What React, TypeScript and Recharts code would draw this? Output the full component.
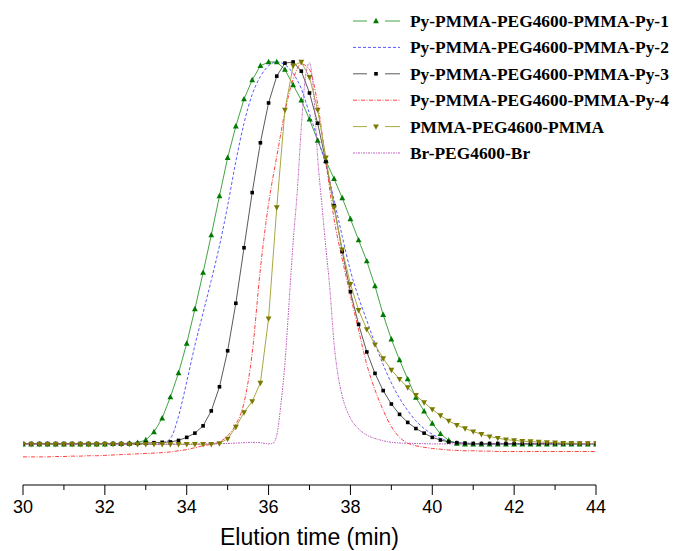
import React from 'react';
import { LineChart, Line, XAxis, YAxis, Legend } from 'recharts';

// elution time grid (min), 0.2 min steps
const time = [
  30.0, 30.2, 30.4, 30.6, 30.8, 31.0, 31.2, 31.4, 31.6, 31.8,
  32.0, 32.2, 32.4, 32.6, 32.8, 33.0, 33.2, 33.4, 33.6, 33.8,
  34.0, 34.2, 34.4, 34.6, 34.8, 35.0, 35.2, 35.4, 35.6, 35.8,
  36.0, 36.2, 36.4, 36.6, 36.8, 37.0, 37.2, 37.4, 37.6, 37.8,
  38.0, 38.2, 38.4, 38.6, 38.8, 39.0, 39.2, 39.4, 39.6, 39.8,
  40.0, 40.2, 40.4, 40.6, 40.8, 41.0, 41.2, 41.4, 41.6, 41.8,
  42.0, 42.2, 42.4, 42.6, 42.8, 43.0, 43.2, 43.4, 43.6, 43.8,
  44.0,
];

const py1 = [
  0.002, 0.002, 0.002, 0.002, 0.002, 0.002, 0.002, 0.002, 0.002, 0.002,
  0.002, 0.003, 0.003, 0.004, 0.006, 0.013, 0.034, 0.07, 0.125, 0.188,
  0.265, 0.355, 0.45, 0.548, 0.65, 0.75, 0.832, 0.903, 0.953, 0.99,
  1.0, 1.0, 0.98, 0.94, 0.9, 0.85, 0.795, 0.742, 0.695, 0.645,
  0.59, 0.535, 0.48, 0.415, 0.34, 0.276, 0.222, 0.172, 0.124, 0.088,
  0.056, 0.029, 0.012, 0.004, 0.002, 0.002, 0.002, 0.002, 0.002, 0.002,
  0.002, 0.002, 0.002, 0.002, 0.002, 0.002, 0.002, 0.002, 0.002, 0.002,
  0.002,
];

const py2 = [
  0.002, 0.002, 0.002, 0.002, 0.002, 0.002, 0.002, 0.002, 0.002, 0.002,
  0.002, 0.002, 0.002, 0.002, 0.002, 0.002, 0.002, 0.005, 0.017, 0.075,
  0.165, 0.26, 0.345, 0.43, 0.52, 0.625, 0.74, 0.84, 0.915, 0.962,
  0.99, 1.0, 0.993, 0.97, 0.93, 0.865, 0.8, 0.73, 0.64, 0.545,
  0.455, 0.385, 0.325, 0.265, 0.21, 0.162, 0.122, 0.09, 0.063, 0.043,
  0.028, 0.017, 0.01, 0.006, 0.004, 0.003, 0.003, 0.003, 0.003, 0.003,
  0.003, 0.003, 0.003, 0.003, 0.003, 0.003, 0.003, 0.003, 0.003, 0.003,
  0.003,
];

const py3 = [
  0.004, 0.004, 0.004, 0.004, 0.004, 0.004, 0.004, 0.004, 0.004, 0.004,
  0.004, 0.004, 0.004, 0.004, 0.004, 0.005, 0.006, 0.007, 0.008, 0.012,
  0.02, 0.031, 0.05, 0.089, 0.152, 0.246, 0.37, 0.515, 0.659, 0.789,
  0.893, 0.963, 0.997, 1.0, 0.976, 0.919, 0.84, 0.74, 0.625, 0.505,
  0.4, 0.315, 0.243, 0.187, 0.142, 0.107, 0.08, 0.059, 0.043, 0.031,
  0.02, 0.013, 0.008, 0.006, 0.005, 0.004, 0.004, 0.004, 0.004, 0.004,
  0.004, 0.004, 0.004, 0.004, 0.004, 0.004, 0.004, 0.004, 0.004, 0.004,
  0.004,
];

const py4 = [
  -0.031, -0.031, -0.031, -0.031, -0.03, -0.03, -0.029, -0.029, -0.028, -0.028,
  -0.027, -0.026, -0.025, -0.024, -0.023, -0.022, -0.021, -0.02, -0.018, -0.015,
  -0.012, -0.007, -0.002, 0.002, 0.008, 0.024, 0.054, 0.11, 0.24, 0.46,
  0.63, 0.753, 0.87, 0.955, 0.995, 0.98, 0.89, 0.74, 0.59, 0.485,
  0.39, 0.3, 0.21, 0.144, 0.091, 0.048, 0.02, 0.005, -0.002, -0.006,
  -0.009, -0.011, -0.013, -0.014, -0.015, -0.015, -0.016, -0.016, -0.017, -0.017,
  -0.017, -0.017, -0.017, -0.017, -0.017, -0.017, -0.017, -0.017, -0.017, -0.017,
  -0.017,
];

const pmma = [
  0.002, 0.002, 0.002, 0.002, 0.002, 0.002, 0.002, 0.002, 0.002, 0.002,
  0.002, 0.002, 0.002, 0.002, 0.002, 0.002, 0.002, 0.002, 0.002, 0.002,
  0.002, 0.002, 0.002, 0.002, 0.004, 0.016, 0.047, 0.085, 0.114, 0.162,
  0.33, 0.62, 0.875, 0.99, 1.0, 0.96, 0.875, 0.75, 0.62, 0.51,
  0.42, 0.352, 0.302, 0.262, 0.226, 0.196, 0.172, 0.15, 0.13, 0.111,
  0.093, 0.077, 0.063, 0.052, 0.043, 0.035, 0.028, 0.022, 0.018, 0.014,
  0.012, 0.01, 0.009, 0.008, 0.007, 0.006, 0.005, 0.005, 0.004, 0.004,
  0.004,
];

// Br-PEG4600-Br is much sharper, sampled on its own times
const pegTime = [
  30, 31, 32, 33, 34, 34.6, 35.0, 35.4, 35.6, 35.8,
  36.0, 36.1, 36.2, 36.3, 36.4, 36.5, 36.6, 36.7, 36.8, 36.9,
  37.0, 37.1, 37.2, 37.3, 37.4, 37.5, 37.6, 37.7, 37.8, 38.0,
  38.2, 38.4, 38.7, 39.1, 39.6, 40, 41, 42, 43, 44,
];
const peg = [
  0.002, 0.002, 0.002, 0.002, 0.002, 0.003, 0.004, 0.006, 0.007, 0.006,
  0.003, 0.004, 0.025, 0.105, 0.213, 0.37, 0.53, 0.66, 0.83, 0.96,
  0.998, 0.92, 0.75, 0.63, 0.515, 0.405, 0.265, 0.18, 0.128, 0.07,
  0.042, 0.026, 0.014, 0.006, 0.004, 0.003, 0.003, 0.003, 0.003, 0.003,
];

const names = [
  'Py-PMMA-PEG4600-PMMA-Py-1',
  'Py-PMMA-PEG4600-PMMA-Py-2',
  'Py-PMMA-PEG4600-PMMA-Py-3',
  'Py-PMMA-PEG4600-PMMA-Py-4',
  'PMMA-PEG4600-PMMA',
  'Br-PEG4600-Br',
];

const xTicks = [30, 31, 32, 33, 34, 35, 36, 37, 38, 39, 40, 41, 42, 43, 44];

const toRows = (ts: number[], vs: number[]) => ts.map((t, i) => ({ t, v: vs[i] }));

const series = [
  { name: names[0], data: toRows(time, py1), stroke: '#45a545', dash: undefined, marker: 'up', fill: '#007a00', type: 'linear' },
  { name: names[1], data: toRows(time, py2), stroke: '#5a5aff', dash: '3 2', marker: null, fill: '', type: 'monotone' },
  { name: names[2], data: toRows(time, py3), stroke: '#5a5a5a', dash: undefined, marker: 'square', fill: '#000000', type: 'linear' },
  { name: names[3], data: toRows(time, py4), stroke: '#ff4040', dash: '4 1.5 1 1.5', marker: null, fill: '', type: 'monotone' },
  { name: names[4], data: toRows(time, pmma), stroke: '#a8a840', dash: undefined, marker: 'down', fill: '#7a7a00', type: 'linear' },
  { name: names[5], data: toRows(pegTime, peg), stroke: '#c060c0', dash: '2 1 1 1', marker: null, fill: '', type: 'monotone' },
];

const Marker = ({ shape, cx, cy, fill }: any) => {
  if (shape === 'square') {
    return <rect x={cx - 1.8} y={cy - 1.8} width={3.6} height={3.6} fill={fill} />;
  }
  if (shape === 'down') {
    return <polygon points={`${cx},${cy + 3.2} ${cx - 2.9},${cy - 2.2} ${cx + 2.9},${cy - 2.2}`} fill={fill} />;
  }
  return <polygon points={`${cx},${cy - 3.2} ${cx - 2.9},${cy + 2.2} ${cx + 2.9},${cy + 2.2}`} fill={fill} />;
};

const makeDot = (shape: string, fill: string) => (props: any) => {
  const { cx, cy, index } = props;
  if (cx == null || cy == null) return <g key={index} />;
  return <Marker key={index} shape={shape} cx={cx} cy={cy} fill={fill} />;
};

const AxisTick = (props: any) => {
  const { x, y, payload } = props;
  const major = payload.value % 2 === 0;
  return (
    <g>
      <line x1={x} x2={x} y1={y} y2={y + (major ? 10 : 5)} stroke="#000" strokeWidth={1} />
      {major && (
        <text x={x} y={y + 28} textAnchor="middle" fontSize={18} fontFamily="Liberation Sans, Arial, sans-serif" fill="#000">
          {payload.value}
        </text>
      )}
    </g>
  );
};

const renderLegend = () => (
  <svg width={334} height={170} style={{ display: 'block' }}>
    {series.map((s, i) => {
      const y = 21 + i * 26.4;
      return (
        <g key={s.name}>
          {s.marker ? (
            <>
              <line x1={13} x2={27} y1={y} y2={y} stroke={s.stroke} strokeWidth={1} />
              <line x1={45} x2={60} y1={y} y2={y} stroke={s.stroke} strokeWidth={1} />
              <Marker shape={s.marker} cx={36} cy={y} fill={s.fill} />
            </>
          ) : (
            <line x1={13} x2={60} y1={y} y2={y} stroke={s.stroke} strokeWidth={1} strokeDasharray={s.dash} />
          )}
          <text x={70} y={y + 6} fontSize={17.4} fontWeight="bold" fontFamily="Liberation Serif, Times New Roman, serif" fill="#000">
            {s.name}
          </text>
        </g>
      );
    })}
  </svg>
);

export default function App() {
  return (
    <div style={{ position: 'absolute', left: 0, top: 0, background: '#fff' }}>
      <LineChart width={674} height={551} margin={{ top: 16, right: 78, bottom: 0, left: 23 }}>
        <XAxis
          dataKey="t"
          type="number"
          domain={[30, 44]}
          ticks={xTicks}
          interval={0}
          allowDataOverflow
          height={66}
          tickSize={0}
          tickMargin={0}
          tickLine={false}
          axisLine={{ stroke: '#000', strokeWidth: 1 }}
          tick={<AxisTick />}
          label={{
            value: 'Elution time (min)',
            position: 'insideBottom',
            offset: 6,
            fontSize: 23,
            fontFamily: 'Liberation Sans, Arial, sans-serif',
            fill: '#000',
          }}
        />
        <YAxis hide type="number" domain={[-0.1044, 1.12]} allowDataOverflow />
        <Legend
          layout="vertical"
          align="center"
          verticalAlign="middle"
          content={renderLegend}
          wrapperStyle={{ left: 340, top: 0, width: 334, height: 170 }}
        />
        {series.map((s) => (
          <Line
            key={s.name}
            data={s.data}
            dataKey="v"
            name={s.name}
            type={s.type as any}
            stroke={s.stroke}
            strokeWidth={1}
            strokeDasharray={s.dash}
            dot={s.marker ? makeDot(s.marker, s.fill) : false}
            activeDot={false}
            isAnimationActive={false}
          />
        ))}
      </LineChart>
    </div>
  );
}
